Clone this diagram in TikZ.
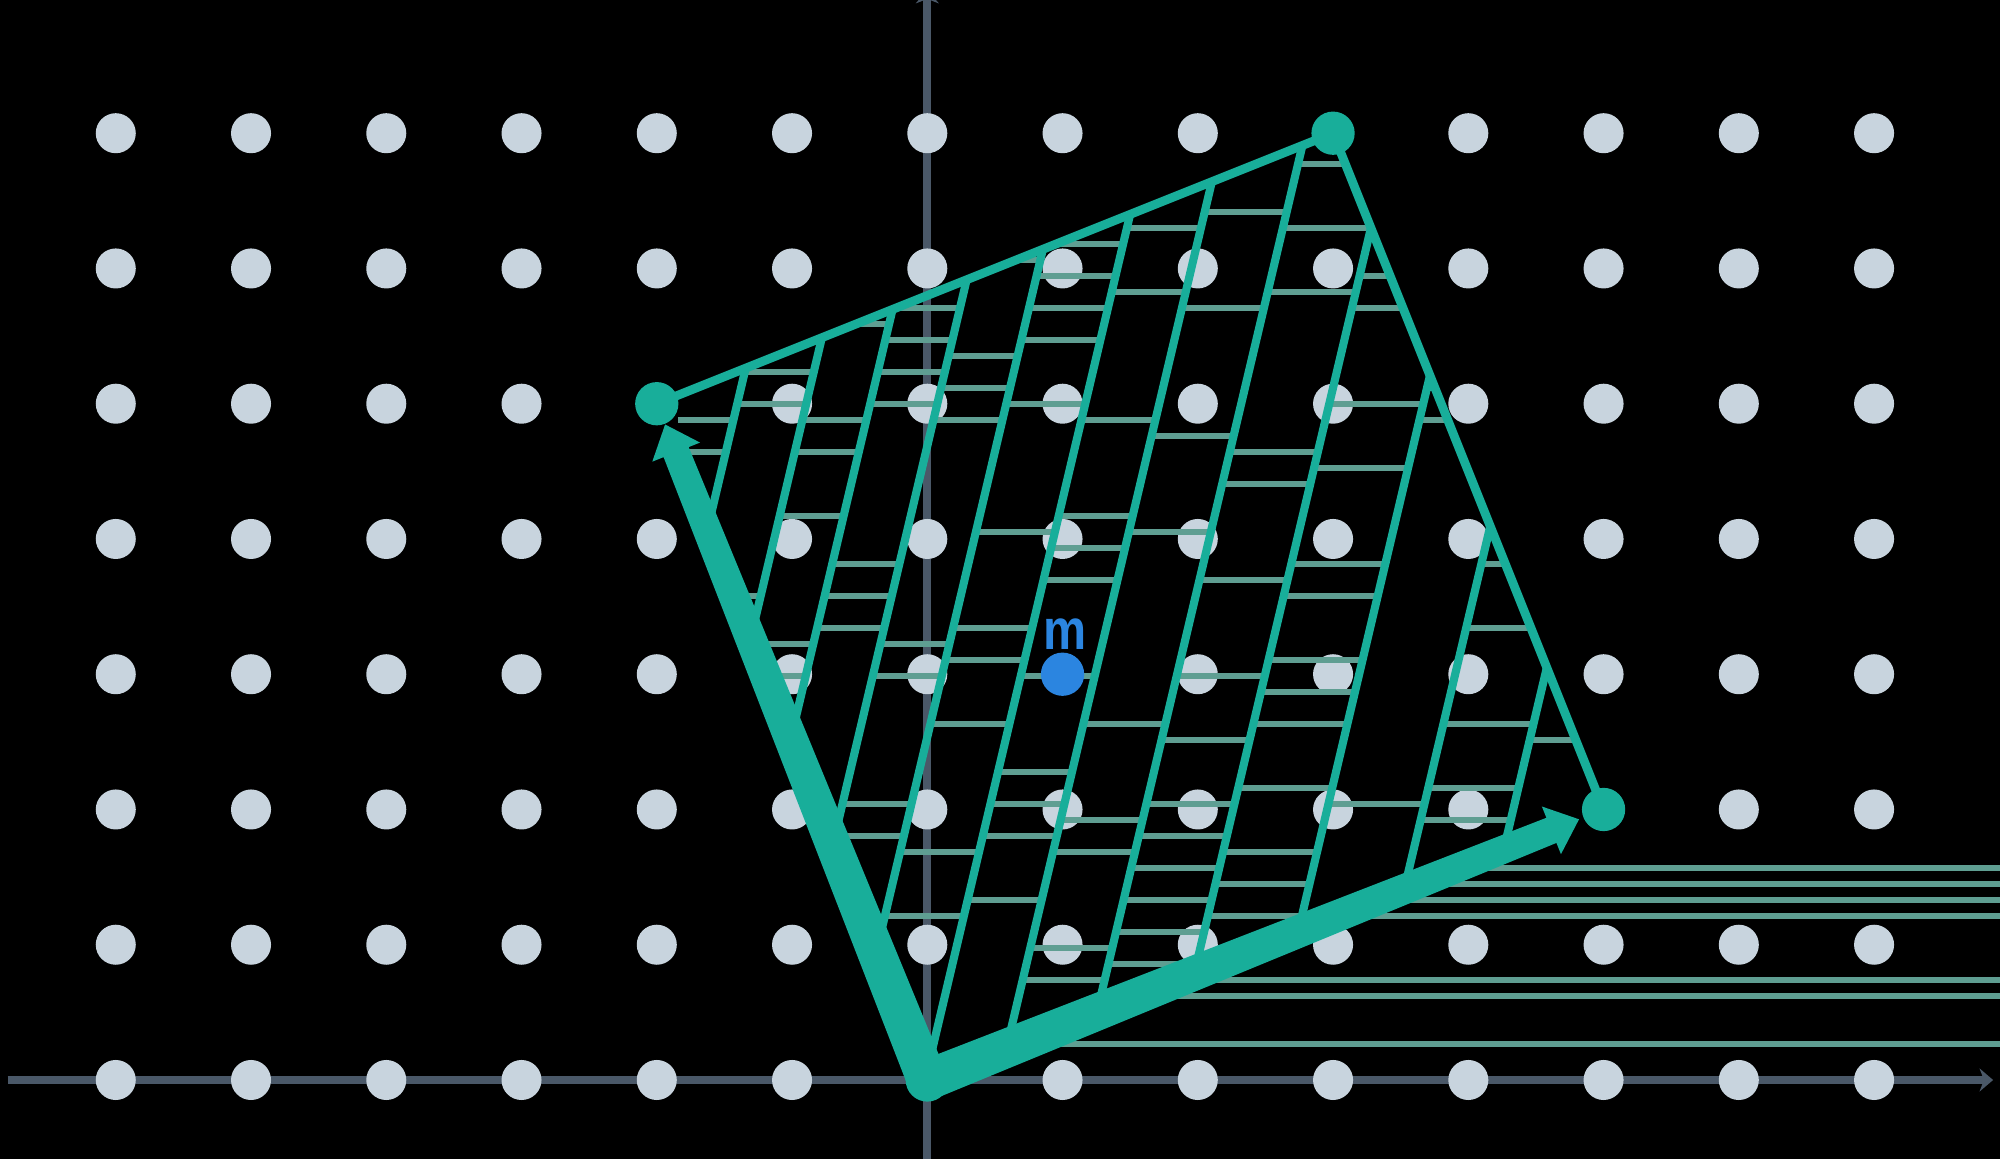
\documentclass[tikz,border=0pt]{standalone}
\usepackage{fontspec}
\newfontfamily\lblfont{Liberation Sans}
\usetikzlibrary{arrows.meta,calc}
\definecolor{teal1}{RGB}{24,174,154}
\definecolor{hcol}{RGB}{95,158,146}
\definecolor{dotgray}{RGB}{200,212,222}
\definecolor{axcol}{RGB}{74,88,104}
\definecolor{blue1}{RGB}{43,133,224}
\begin{document}
\begin{tikzpicture}[
  axisline/.style={draw=axcol,line width=0.06cm,-{Stealth[length=0.1cm,width=0.17cm]}},
  hatchline/.style={draw=teal1,line width=0.06cm},
  hline/.style={draw=hcol,line width=0.05cm},
  edgeline/.style={draw=teal1,line width=0.065cm,line cap=round},
  bigarrow/.style={fill=teal1},
  vtx/.style={circle,fill=teal1,minimum size=0.32cm,inner sep=0pt},
  ptb/.style={circle,fill=blue1,minimum size=0.32cm,inner sep=0pt},
  lbl/.style={text=blue1,font=\lblfont\bfseries\fontsize{12}{13}\selectfont,inner sep=0pt}
]
\useasboundingbox (-6.856,-0.584) rectangle (7.931,7.985);
\fill[black] (-6.856,-0.584) rectangle (7.931,7.985);
\coordinate (pO) at (0,0);
\coordinate (pA) at (-2,5);
\coordinate (pB) at (3,7);
\coordinate (pC) at (5,2);
\coordinate (xs) at (-6.80,0);
\coordinate (xe) at (7.88,0);
\coordinate (ys) at (0,-0.6);
\coordinate (ye) at (0,8.06);
\draw[axisline] (xs) -- (xe);
\draw[axisline] (ys) -- (ye);
% lattice
\foreach \x in {-6,...,7} \foreach \y in {0,...,7} \fill[dotgray] (\x,\y) circle (0.148);
% long horizontal lines outside
\foreach \m in {2,5,6,10,11,12,13} {
  \pgfmathsetmacro{\yy}{0.0296+0.1183*\m}
  \draw[hline] ({2.5*\yy},\yy) -- (8,\yy);
}
% hatching
\pgfmathsetseed{5}
\begin{scope}
\clip (pO) -- (pC) -- (pB) -- (pA) -- cycle;
\foreach \ka/\kb [count=\i] in {-3/-2.590,-2.590/-2.080,-2.080/-1.607,-1.607/-1.111,-1.111/-0.601,-0.601/-0.017,-0.017/0.530,0.530/1.136,1.136/1.787,1.787/2.482,2.482/3.192,3.192/3.858,3.858/6} {
  \foreach \n in {0,...,30} {
    \pgfmathsetmacro{\r}{rnd}
    \ifdim\r pt<0.42pt
      \pgfmathsetmacro{\yy}{0.0296+0.1183*(2*\n+mod(\i,2))}
      \draw[hline] ({\ka+0.237*\yy},\yy) -- ({\kb+0.237*\yy},\yy);
    \fi
  }
}
\foreach \k in {-2.590,-2.080,-1.607,-1.111,-0.601,-0.017,0.530,1.136,1.787,2.482,3.192,3.858} {
  \draw[hatchline] ({\k-0.237},-1) -- ({\k+0.237*8},8);
}
\end{scope}
% parallelogram edges
\draw[edgeline] (pA) -- (pB);
\draw[edgeline] (pB) -- (pC);
% thick arrows
\coordinate (aS1) at ($(pO)!0.15cm!90:(pA)$);
\coordinate (aS2) at ($(pO)!0.15cm!-90:(pA)$);
\coordinate (aB) at ($(pO)!5.0cm!(pA)$);
\coordinate (aB1) at ($(aB)!0.1cm!90:(pA)$);
\coordinate (aB2) at ($(aB)!0.1cm!-90:(pA)$);
\coordinate (aW1) at ($(aB)!0.19cm!90:(pA)$);
\coordinate (aW2) at ($(aB)!0.19cm!-90:(pA)$);
\coordinate (aT) at ($(pO)!5.22cm!(pA)$);
\fill[bigarrow] (aS1) -- (aB1) -- (aW1) -- (aT) -- (aW2) -- (aB2) -- (aS2) -- cycle;
\coordinate (cS1) at ($(pO)!0.15cm!90:(pC)$);
\coordinate (cS2) at ($(pO)!0.15cm!-90:(pC)$);
\coordinate (cB) at ($(pO)!4.97cm!(pC)$);
\coordinate (cB1) at ($(cB)!0.1cm!90:(pC)$);
\coordinate (cB2) at ($(cB)!0.1cm!-90:(pC)$);
\coordinate (cW1) at ($(cB)!0.19cm!90:(pC)$);
\coordinate (cW2) at ($(cB)!0.19cm!-90:(pC)$);
\coordinate (cT) at ($(pO)!5.19cm!(pC)$);
\fill[bigarrow] (cS1) -- (cB1) -- (cW1) -- (cT) -- (cW2) -- (cB2) -- (cS2) -- cycle;
% vertices
\node[vtx] (vO) at (pO) {};
\node[vtx] (vA) at (pA) {};
\node[vtx] (vB) at (pB) {};
\node[vtx] (vC) at (pC) {};
\node[ptb] (vm) at (1,3) {};
\node[lbl] (mlbl) at (1.02,3.30) {\scalebox{0.85}[1]{m}};
\end{tikzpicture}
\end{document}
